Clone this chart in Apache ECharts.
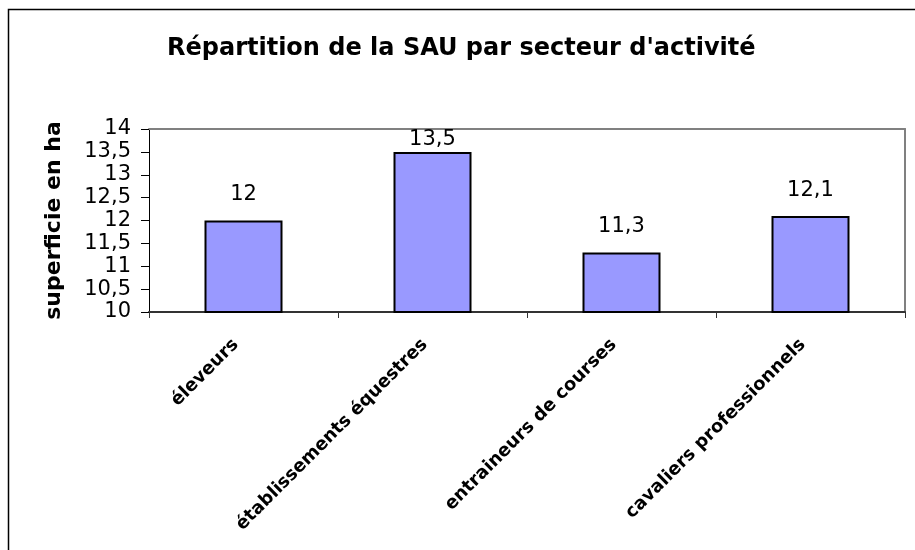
<!DOCTYPE html>
<html>
<head>
<meta charset="utf-8">
<script src="https://cdn.jsdelivr.net/npm/echarts@6/dist/echarts.min.js"></script>
<style>
  html, body { margin: 0; padding: 0; background: #fff; }
  #chart { width: 915px; height: 550px; }
</style>
</head>
<body>
<div id="chart"></div>
<script>
const categories = ['éleveurs', 'établissements équestres', 'entraineurs de courses', 'cavaliers professionnels']
const surfaces = [12, 13.5, 11.3, 12.1]
const yTicks = { min: 10, max: 14, step: 0.5 }

const comma = (v) => String(v).replace('.', ',')
const font = 'DejaVu Sans'
const gridTop = 129

const chart = echarts.init(document.getElementById('chart'))
chart.setOption({
  animation: false,
  backgroundColor: '#fff',
  title: {
    text: "Répartition de la SAU par secteur d'activité",
    left: 162,
    top: 32,
    textStyle: { fontFamily: font, fontSize: 24, fontWeight: 'bold', color: '#000' },
  },
  graphic: [
    {
      type: 'rect',
      shape: { x: 8.5, y: 9.5, width: 1000, height: 1000 },
      style: { fill: null, stroke: '#000', lineWidth: 1.5 },
      silent: true,
      z: -1,
    },
  ],
  grid: { left: 149, right: 10, top: gridTop, bottom: 238 },
  xAxis: [
    {
      type: 'category',
      data: categories,
      boundaryGap: true,
      axisLine: { lineStyle: { color: '#333', width: 2 } },
      axisTick: { show: true, length: 6, lineStyle: { color: '#333' } },
      axisLabel: {
        interval: 0,
        rotate: 45,
        margin: 22,
        padding: [0, 11, 0, 0],
        fontFamily: font,
        fontSize: 18,
        fontWeight: 'bold',
        color: '#000',
      },
    },
    {
      type: 'category',
      position: 'top',
      data: categories,
      axisLine: { lineStyle: { color: '#808080', width: 2 } },
      axisTick: { show: false },
      axisLabel: { show: false },
    },
  ],
  yAxis: [
    {
      type: 'value',
      min: yTicks.min,
      max: yTicks.max,
      interval: yTicks.step,
      name: 'superficie en ha',
      nameLocation: 'middle',
      nameGap: 84,
      nameTextStyle: { fontFamily: font, fontSize: 22, fontWeight: 'bold', color: '#000' },
      axisLine: { show: true, lineStyle: { color: '#000', width: 1 } },
      axisTick: { show: true, length: 8, lineStyle: { color: '#000' } },
      axisLabel: {
        margin: 18,
        fontFamily: font,
        fontSize: 21,
        color: '#000',
        formatter: comma,
      },
      splitLine: { show: false },
    },
    {
      type: 'value',
      position: 'right',
      min: yTicks.min,
      max: yTicks.max,
      axisLine: { show: true, lineStyle: { color: '#808080', width: 2 } },
      axisTick: { show: false },
      axisLabel: { show: false },
      splitLine: { show: false },
    },
  ],
  series: [
    {
      type: 'bar',
      data: surfaces,
      barWidth: 78,
      itemStyle: { color: '#9999ff', borderColor: '#000', borderWidth: 2 },
      label: {
        show: true,
        position: 'top',
        distance: 15,
        fontFamily: font,
        fontSize: 21,
        color: '#000',
        formatter: (p) => comma(p.value),
      },
      // labels are kept inside the plot area, like the original
      labelLayout: (params) => {
        const r = params.labelRect
        return r.y < gridTop ? { dy: gridTop - r.y } : {}
      },
    },
  ],
})
</script>
</body>
</html>
